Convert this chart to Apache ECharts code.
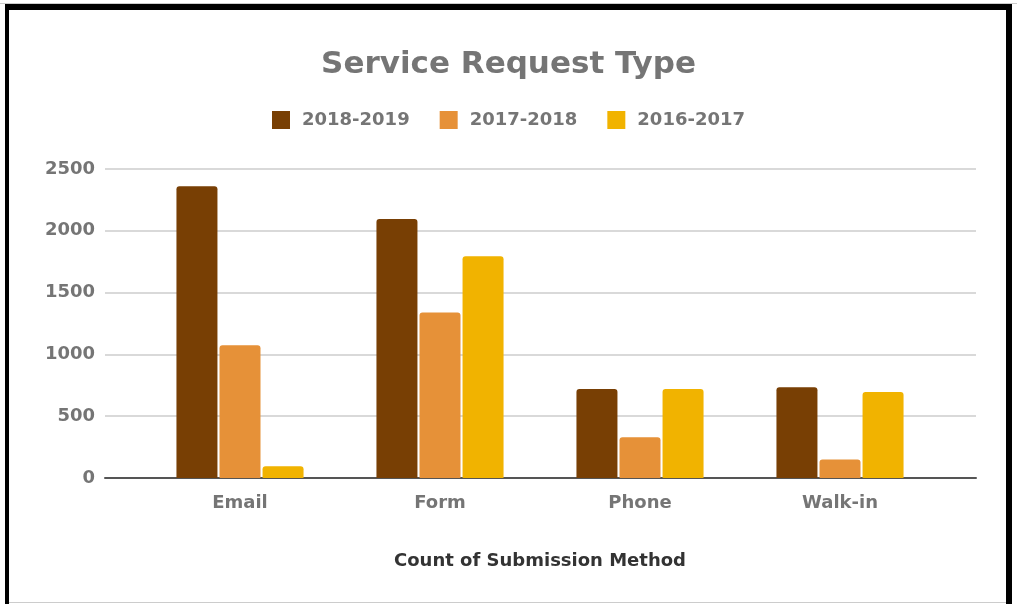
<!DOCTYPE html>
<html>
<head>
<meta charset="utf-8">
<script src="https://cdn.jsdelivr.net/npm/echarts@6/dist/echarts.min.js"></script>
<style>
  html, body { margin: 0; padding: 0; background: #fff; }
  #chart { width: 1017px; height: 605px; }
</style>
</head>
<body>
<div id="chart"></div>
<script>
  // data
  var categories = ['Email', 'Form', 'Phone', 'Walk-in'];
  var seriesNames = ['2018-2019', '2017-2018', '2016-2017'];
  var values2018 = [2360, 2095, 720, 735];
  var values2017 = [1075, 1340, 330, 150];
  var values2016 = [95, 1795, 720, 695];
  var yTicks = [0, 500, 1000, 1500, 2000, 2500];

  var colors = ['#783f04', '#e69138', '#f1b300'];
  var gray = '#757575';
  var font = 'DejaVu Sans';

  var myChart = echarts.init(document.getElementById('chart'));

  var allValues = [values2018, values2017, values2016];
  var series = seriesNames.map(function (name, i) {
    return {
      name: name,
      type: 'bar',
      xAxisIndex: 1,
      yAxisIndex: 1,
      barWidth: 41,
      barGap: '5%',
      itemStyle: { color: colors[i], borderRadius: [3, 3, 0, 0] },
      data: allValues[i]
    };
  });

  var option = {
    backgroundColor: '#fff',
    animation: false,
    color: colors,
    title: {
      text: 'Service Request Type',
      left: 'center',
      top: 49,
      padding: 0,
      textStyle: { fontFamily: font, fontSize: 31, fontWeight: 'bold', color: gray }
    },
    legend: {
      data: seriesNames,
      left: 'center',
      top: 106,
      icon: 'rect',
      itemWidth: 18,
      itemHeight: 18,
      itemGap: 30,
      textStyle: { fontFamily: font, fontSize: 18, fontWeight: 'bold', color: gray, padding: [0, 0, 0, 7] }
    },
    graphic: [
      { type: 'rect', shape: { x: 0, y: 3, width: 1017, height: 1 }, style: { fill: '#cccccc' } },
      { type: 'rect', shape: { x: 5, y: 4, width: 1007, height: 6 }, style: { fill: '#000' } },
      { type: 'rect', shape: { x: 5, y: 4, width: 4, height: 600 }, style: { fill: '#000' } },
      { type: 'rect', shape: { x: 1006, y: 4, width: 6, height: 600 }, style: { fill: '#000' } },
      { type: 'rect', shape: { x: 9, y: 602, width: 997, height: 1 }, style: { fill: '#cccccc' } }
    ],
    grid: [
      { left: 105, right: 41, top: 169, bottom: 127 },
      { left: 140, right: 77, top: 169, bottom: 127 }
    ],
    xAxis: [
      {
        gridIndex: 0,
        type: 'value',
        min: 0,
        max: 1,
        axisLine: { show: true, onZero: false, lineStyle: { color: '#555', width: 2 } },
        axisTick: { show: false },
        axisLabel: { show: false },
        splitLine: { show: false }
      },
      {
        gridIndex: 1,
        type: 'category',
        data: categories,
        name: 'Count of Submission Method',
        nameLocation: 'middle',
        nameGap: 74,
        nameTextStyle: { fontFamily: font, fontSize: 18, fontWeight: 'bold', color: '#333' },
        axisLine: { show: false },
        axisTick: { show: false },
        axisLabel: { margin: 16, fontFamily: font, fontSize: 18, fontWeight: 'bold', color: gray }
      }
    ],
    yAxis: [
      {
        gridIndex: 0,
        type: 'value',
        min: yTicks[0],
        max: yTicks[yTicks.length - 1],
        interval: 500,
        axisLine: { show: false },
        axisTick: { show: false },
        axisLabel: {
          margin: 10,
          fontFamily: font,
          fontSize: 18,
          fontWeight: 'bold',
          color: gray,
          formatter: function (v) { return String(v); }
        },
        splitLine: { show: true, lineStyle: { color: '#cccccc', width: 1.5 } }
      },
      {
        gridIndex: 1,
        type: 'value',
        min: yTicks[0],
        max: yTicks[yTicks.length - 1],
        interval: 500,
        show: false,
        splitLine: { show: false }
      }
    ],
    series: series
  };

  myChart.setOption(option, true);
  window.onresize = function () {
    myChart.resize();
  };
</script>
</body>
</html>
